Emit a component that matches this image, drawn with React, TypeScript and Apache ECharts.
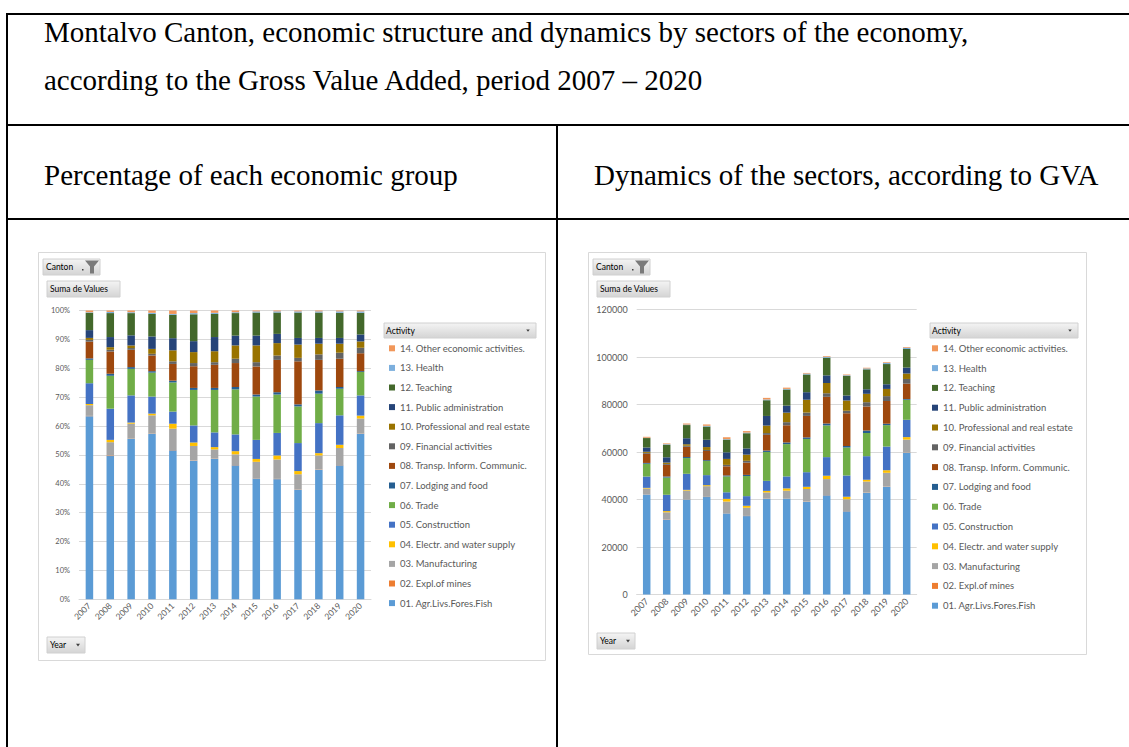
import React, { useEffect, useRef } from "react";
import * as echarts from "echarts";

const years = ["2007", "2008", "2009", "2010", "2011", "2012", "2013", "2014", "2015", "2016", "2017", "2018", "2019", "2020"];
const sectors = [
  "01. Agr.Livs.Fores.Fish",
  "02. Expl.of mines",
  "03. Manufacturing",
  "04. Electr. and water supply",
  "05. Construction",
  "06. Trade",
  "07. Lodging and food",
  "08. Transp. Inform. Communic.",
  "09. Financial activities",
  "10. Professional and real estate",
  "11. Public administration",
  "12. Teaching",
  "13. Health",
  "14. Other economic activities.",
];
const colors = ["#5B9BD5", "#ED7D31", "#A5A5A5", "#FFC000", "#4472C4", "#70AD47", "#255E91", "#9E480E", "#636363", "#997300", "#264478", "#43682B", "#7CAFDD", "#F1975A"];

const agr = [42100, 31550, 39960, 41030, 34160, 33020, 40240, 40410, 39000, 41770, 35100, 42780, 45380, 59710];
const mines = [70, 130, 70, 70, 70, 70, 80, 90, 90, 100, 90, 100, 100, 100];
const manuf = [2460, 2930, 3740, 4510, 4900, 3440, 2650, 3220, 5320, 6730, 4910, 4680, 5770, 5420];
const electr = [270, 510, 290, 430, 1130, 830, 660, 960, 930, 1410, 1020, 760, 1080, 1040];
const constr = [4780, 6870, 6770, 4220, 2780, 4060, 4220, 5050, 6160, 7830, 8980, 9930, 9980, 7290];
const trade = [5380, 7250, 6620, 5940, 6690, 8460, 12170, 13590, 14000, 13350, 11760, 9740, 9000, 8440];
const lodging = [330, 450, 430, 360, 400, 480, 580, 700, 650, 800, 650, 1050, 590, 310];
const transp = [3850, 4900, 4320, 3870, 3840, 5160, 6620, 7230, 9050, 11240, 13800, 10120, 9580, 6460];
const financial = [400, 380, 430, 430, 600, 760, 750, 1310, 1400, 1510, 1110, 1810, 2050, 1980];
const professional = [460, 570, 650, 1220, 2520, 2610, 3150, 4010, 5410, 4320, 4260, 3530, 3030, 2290];
const publicAdmin = [1790, 2230, 2520, 3080, 2780, 2610, 4060, 2960, 3170, 3210, 2130, 1910, 1960, 2500];
const teaching = [3980, 5280, 5540, 5580, 5360, 6400, 6620, 6790, 7460, 7430, 8150, 8400, 8510, 7820];
const health = [130, 250, 220, 290, 200, 280, 330, 260, 370, 400, 370, 380, 490, 520];
const other = [400, 320, 430, 570, 790, 620, 660, 520, 280, 300, 280, 290, 290, 310];

const seriesValues = [agr, mines, manuf, electr, constr, trade, lodging, transp, financial, professional, publicAdmin, teaching, health, other];
const totals = years.map((_, j) => seriesValues.reduce((s, a) => s + a[j], 0));

const FONT = "Lato";

function btnGradient() {
  return new echarts.graphic.LinearGradient(0, 0, 0, 1, [
    { offset: 0, color: "#F4F4F4" },
    { offset: 1, color: "#D4D4D4" },
  ]);
}

function tri(cx: number, cy: number, s = 2.2) {
  return { type: "polygon", shape: { points: [[cx - s, cy - s * 0.6], [cx + s, cy - s * 0.6], [cx, cy + s * 0.7]] }, style: { fill: "#404040" } };
}

function chrome(w: number, h: number, c: any) {
  const g: any[] = [
    { type: "rect", shape: { x: 0.5, y: 0.5, width: w - 1, height: h - 1 }, style: { fill: "#fff", stroke: "#D9D9D9", lineWidth: 1 }, z: -10 },
    { type: "rect", shape: { x: c.cx, y: c.cy, width: 57, height: 16 }, style: { fill: btnGradient(), stroke: "#D0D0D0" } },
    { type: "text", x: c.cx + 3, y: c.cy + 8, style: { text: "Canton", fill: "#000", fontSize: 8.5, fontFamily: FONT, verticalAlign: "middle" } },
    { type: "rect", shape: { x: c.cx + 39, y: c.cy + 10, width: 1.5, height: 1.5 }, style: { fill: "#404040" } },
    { type: "polygon", shape: { points: [[c.cx + 42, c.cy + 1.5], [c.cx + 56, c.cy + 1.5], [c.cx + 51, c.cy + 7.5], [c.cx + 51, c.cy + 14.5], [c.cx + 47, c.cy + 14.5], [c.cx + 47, c.cy + 7.5]] }, style: { fill: "#7A7A7A" } },
    { type: "rect", shape: { x: c.sx, y: c.sy, width: 73, height: 16 }, style: { fill: btnGradient(), stroke: "#D0D0D0" } },
    { type: "text", x: c.sx + 3, y: c.sy + 8, style: { text: "Suma de Values", fill: "#000", fontSize: 8.5, fontFamily: FONT, verticalAlign: "middle" } },
    { type: "rect", shape: { x: c.yx, y: c.yy, width: 38, height: 16 }, style: { fill: btnGradient(), stroke: "#D0D0D0" } },
    { type: "text", x: c.yx + 3, y: c.yy + 8, style: { text: "Year", fill: "#000", fontSize: 8.5, fontFamily: FONT, verticalAlign: "middle" } },
    tri(c.yx + 31, c.yy + 8, 2),
    { type: "rect", shape: { x: c.ax, y: c.ay, width: c.aw, height: 15 }, style: { fill: btnGradient(), stroke: "#D0D0D0" } },
    { type: "text", x: c.ax + 2, y: c.ay + 7.5, style: { text: "Activity", fill: "#000", fontSize: 8.5, fontFamily: FONT, verticalAlign: "middle" } },
    tri(c.ax + c.aw - 8, c.ay + 7.5, 1.8),
  ];
  return g;
}

function makeOption(kind: "pct" | "abs") {
  const isPct = kind === "pct";
  const w = isPct ? 508 : 499;
  const h = isPct ? 409 : 403;
  const series = seriesValues.map((arr, i) => ({
    name: sectors[i],
    type: "bar",
    stack: "all",
    barWidth: 7.5,
    data: isPct ? arr.map((v, j) => (v / totals[j]) * 100) : arr,
    itemStyle: { color: colors[i] },
  }));
  return {
    animation: false,
    color: colors,
    textStyle: { fontFamily: FONT },
    grid: isPct
      ? { left: 41, top: 58.5, width: 292, height: 288.8 }
      : { left: 48.7, top: 57.5, width: 280, height: 285 },
    xAxis: {
      type: "category",
      data: years,
      axisLine: { lineStyle: { color: "#D9D9D9" } },
      axisTick: { show: false },
      axisLabel: { rotate: 45, fontSize: isPct ? 8.5 : 9, color: "#595959", margin: 5, interval: 0 },
    },
    yAxis: {
      type: "value",
      min: 0,
      max: isPct ? 100 : 120000,
      interval: isPct ? 10 : 20000,
      axisLine: { show: false },
      axisTick: { show: false },
      axisLabel: {
        formatter: isPct ? (v: number) => `${v}%` : (v: number) => String(v),
        fontSize: isPct ? 7.5 : 9,
        color: "#595959",
        margin: 9,
      },
      splitLine: { lineStyle: { color: "#D9D9D9" } },
    },
    legend: {
      orient: "vertical",
      left: isPct ? 346 : 339,
      top: 85.3,
      itemWidth: 6,
      itemHeight: 6,
      itemGap: isPct ? 7.6 : 7.8,
      icon: "rect",
      selectedMode: false,
      data: [...sectors].reverse(),
      textStyle: { fontSize: 9.5, color: "#595959", lineHeight: 12, fontFamily: FONT },
    },
    series,
    graphic: chrome(
      w,
      h,
      isPct
        ? { cx: 5, cy: 7, sx: 9, sy: 29, yx: 9, yy: 385, ax: 346, ay: 71, aw: 152 }
        : { cx: 5, cy: 7, sx: 9, sy: 29, yx: 9, yy: 381, ax: 342, ay: 71, aw: 148 }
    ),
  };
}

function Chart({ kind, style }: { kind: "pct" | "abs"; style: React.CSSProperties }) {
  const ref = useRef<HTMLDivElement>(null);
  useEffect(() => {
    const c = echarts.init(ref.current!, null, { renderer: "svg" });
    c.setOption(makeOption(kind) as any);
    return () => c.dispose();
  }, [kind]);
  return <div ref={ref} style={style} />;
}

function Txt({ x, y, children }: { x: number; y: number; children: React.ReactNode }) {
  return (
    <div
      style={{
        position: "absolute",
        left: x,
        top: y,
        fontFamily: "'Liberation Serif', 'Times New Roman', serif",
        fontSize: 29,
        lineHeight: "29px",
        color: "#000",
        whiteSpace: "nowrap",
      }}
    >
      {children}
    </div>
  );
}

function Line({ x, y, w, h }: { x: number; y: number; w: number; h: number }) {
  return <div style={{ position: "absolute", left: x, top: y, width: w, height: h, background: "#000" }} />;
}

export default function App() {
  return (
    <div style={{ position: "absolute", left: 0, top: 0, width: 1129, height: 747, background: "#fff", overflow: "hidden" }}>
      <Line x={6} y={13} w={1123} h={2} />
      <Line x={6} y={124} w={1123} h={2} />
      <Line x={6} y={218} w={1123} h={2} />
      <Line x={6} y={13} w={2} h={734} />
      <Line x={556} y={124} w={2} h={623} />
      <Txt x={44} y={18}>Montalvo Canton, economic structure and dynamics by sectors of the economy,</Txt>
      <Txt x={44} y={66}>according to the Gross Value Added, period 2007 – 2020</Txt>
      <Txt x={44} y={161}>Percentage of each economic group</Txt>
      <Txt x={594} y={161}>Dynamics of the sectors, according to GVA</Txt>
      <Chart kind="pct" style={{ position: "absolute", left: 38, top: 252, width: 508, height: 409 }} />
      <Chart kind="abs" style={{ position: "absolute", left: 588, top: 252, width: 499, height: 403 }} />
    </div>
  );
}
